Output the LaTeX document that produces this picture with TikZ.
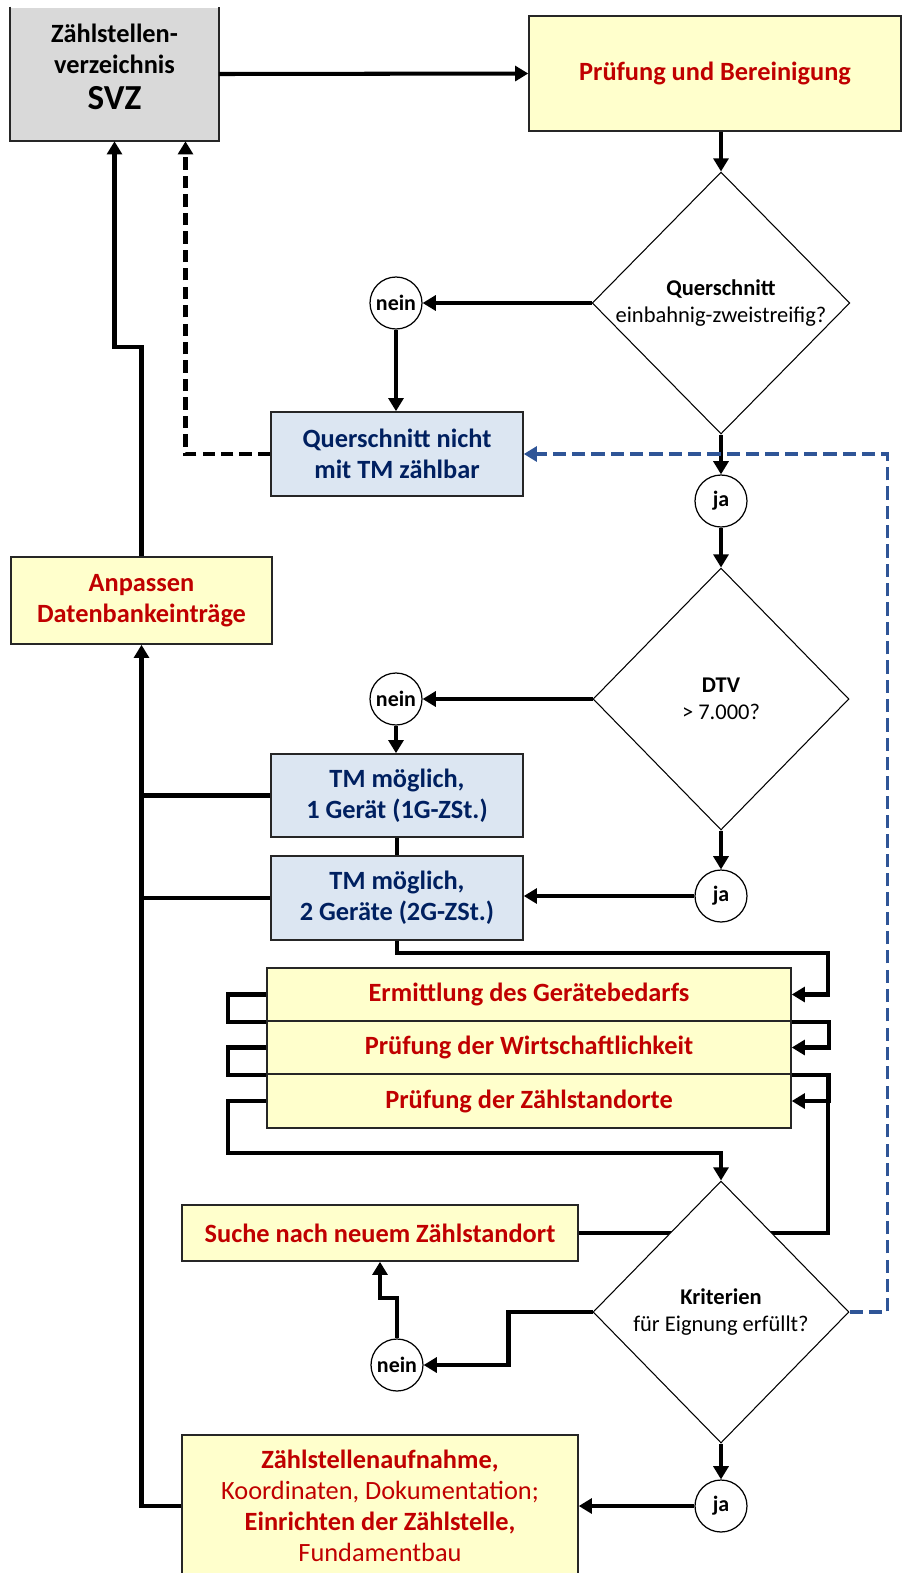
\documentclass[tikz,border=0pt]{standalone}
\usepackage{fontspec}
\setmainfont{Carlito}
\usepackage{tikz}
\usetikzlibrary{arrows.meta, shapes.geometric}
\definecolor{svzgray}{HTML}{D9D9D9}
\definecolor{boxyellow}{HTML}{FFFFCC}
\definecolor{boxblue}{HTML}{DCE6F2}
\definecolor{textred}{HTML}{C00000}
\definecolor{textblue}{HTML}{002060}
\definecolor{dashblue}{HTML}{2F5597}
\tikzset{
  ablock/.style={rectangle, draw=black!85, line width=0.9pt, inner sep=2pt, align=center,
    font=\fontsize{15}{17.6}\selectfont\bfseries},
  yblock/.style={ablock, fill=boxyellow, text=textred},
  bblock/.style={ablock, fill=boxblue, text=textblue},
  decision/.style={diamond, draw, fill=white, line width=0.6pt, inner sep=0pt,
    minimum width=5.12cm, minimum height=5.24cm, align=center,
    font=\fontsize{12.8}{15.5}\selectfont},
  answer/.style={circle, draw, fill=white, line width=0.7pt, inner sep=0pt,
    minimum size=1.04cm, font=\fontsize{12.5}{14}\selectfont\bfseries},
  flow/.style={line width=2.3pt, -{Triangle[length=7.5pt,width=8.5pt]}},
  link/.style={line width=2.3pt}
}

\begin{document}
\begin{tikzpicture}[x=0.02cm, y=-0.02cm]
\clip (0,0) rectangle (902,1573);

\begin{scope}[every node/.style={minimum width=5.04cm, minimum height=1.68cm}]
    \node[ablock, draw=none, fill=svzgray, minimum width=4.14cm, minimum height=2.66cm, text depth=8pt] (svz) at (114.5,74)
        {Zählstellen-\\verzeichnis\\[3pt]{\fontsize{20}{22}\selectfont SVZ}};
    \node[yblock, minimum width=7.44cm, minimum height=2.3cm] (pruef) at (715,73.5) {Prüfung und Bereinigung};
    \node[bblock] (nicht) at (397,454) {Querschnitt nicht\\mit TM zählbar};
    \node[yblock, minimum width=5.22cm, minimum height=1.74cm] (anp) at (141.5,600.5) {Anpassen\\Datenbankeinträge};
    \node[bblock, minimum height=1.66cm] (tm1) at (397,795.5) {TM möglich,\\1 Gerät (1G-ZSt.)};
    \node[bblock] (tm2) at (397,898) {TM möglich,\\2 Geräte (2G-ZSt.)};
    \node[yblock, minimum width=10.48cm, minimum height=1.07cm] (erm) at (529,994.5) {Ermittlung des Gerätebedarfs};
    \node[yblock, minimum width=10.48cm, minimum height=1.07cm] (wirt) at (529,1047.5) {Prüfung der Wirtschaftlichkeit};
    \node[yblock, minimum width=10.48cm, minimum height=1.07cm] (stand) at (529,1101) {Prüfung der Zählstandorte};
    \node[yblock, minimum width=7.92cm, minimum height=1.12cm] (suche) at (380,1233) {Suche nach neuem Zählstandort};
    \node[yblock, minimum width=7.92cm, minimum height=2.84cm] (auf) at (380,1506)
        {Zählstellenaufnahme,\\{\mdseries Koordinaten, Dokumentation;}\\Einrichten der Zählstelle,\\{\mdseries Fundamentbau}};
\end{scope}
\draw[black!85, line width=0.9pt] (svz.north west) |- (svz.south east) -- (svz.north east);

\draw[link] (suche.east) -- (828,1233) -- (828,1074);

\node[decision] (q1) at (721,303) {{\bfseries Querschnitt}\\einbahnig-zweistreifig?};
\node[decision] (q2) at (721,699) {{\bfseries DTV}\\> 7.000?};
\node[decision] (q3) at (721,1312) {{\bfseries Kriterien}\\für Eignung erfüllt?};

\node[answer] (nein1) at (396,303) {nein};
\node[answer] (ja1) at (721,501) {ja};
\node[answer] (nein2) at (396,699) {nein};
\node[answer] (ja2) at (721,896) {ja};
\node[answer] (nein3) at (397,1365) {nein};
\node[answer] (ja3) at (721,1506) {ja};

\draw[flow] (svz.east) -- (pruef.west);
\draw[flow] (q1.north |- pruef.south) -- (q1.north);
\draw[flow] (q1.west) -- (nein1.east);
\draw[flow] (nein1.south) -- (nein1.south |- nicht.north);
\draw[flow, dash pattern=on 7pt off 3.5pt] (nicht.west) -| ([xshift=1.42cm]svz.south);
\draw[flow] (q1.south) -- (ja1.north);
\draw[flow] (ja1.south) -- (q2.north);
\draw[flow] (q2.west) -- (nein2.east);
\draw[flow] (nein2.south) -- (nein2.south |- tm1.north);
\draw[link] (tm1.south) -- (tm2.north);
\draw[flow] (q2.south) -- (ja2.north);
\draw[flow] (ja2.west) -- (ja2.west -| tm2.east);

\draw[flow] (tm2.south) |- (828,953) |- (erm.east);
\draw[flow] (erm.south east) -- ++(37,0) |- (wirt.east);
\draw[flow] (wirt.south east) -- ++(37,0) |- (stand.east);
\draw[link] (erm.west) -- ++(-38,0) |- (erm.south west);
\draw[link] (wirt.west) -- ++(-38,0) |- (wirt.south west);
\draw[flow] (stand.west) -- ++(-38,0) -- ++(0,52) -| (q3.north);

\draw[flow] (q3.west) -- ++(-84,0) |- (nein3.east);
\draw[flow] (nein3.north) -- ++(0,-40) -| (suche.south);
\draw[flow] (q3.south) -- (ja3.north);
\draw[flow] (ja3.west) -- (ja3.west -| auf.east);
\draw[flow, dashblue, line width=2.2pt, dash pattern=on 7.5pt off 3.5pt] (q3.east) -- ++(38,0) |- (nicht.east);

\draw[flow] (auf.west) -| (anp.south);
\draw[link] (tm1.west) -- (tm1.west -| anp.south);
\draw[link] (tm2.west) -- (tm2.west -| anp.south);
\draw[flow] (anp.north) -- ++(0,-209) -| (svz.south);

\end{tikzpicture}
\end{document}
